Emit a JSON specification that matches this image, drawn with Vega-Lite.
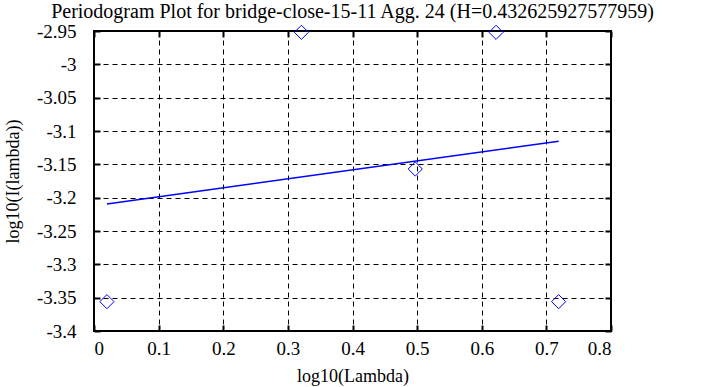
{
  "$schema": "https://vega.github.io/schema/vega-lite/v6.json",
  "width": 517,
  "height": 300,
  "autosize": {"type": "none"},
  "padding": {"left": 94, "top": 31, "right": 94, "bottom": 56},
  "background": "white",
  "config": {
    "view": {"stroke": "black", "strokeWidth": 2},
    "font": "Liberation Serif",
    "axis": {
      "labelFontSize": 19,
      "titleFontSize": 18,
      "titleFontWeight": "normal",
      "labelColor": "black",
      "titleColor": "black",
      "domain": false,
      "tickColor": "black",
      "tickWidth": 2,
      "tickSize": -6,
      "gridColor": "black",
      "gridOpacity": 1,
      "gridWidth": 1,
      "gridDash": [5, 4]
    }
  },
  "title": {
    "text": "Periodogram Plot for bridge-close-15-11 Agg. 24 (H=0.432625927577959)",
    "font": "Liberation Serif",
    "fontSize": 20,
    "fontWeight": "normal",
    "color": "black",
    "anchor": "middle",
    "offset": 0
  },
  "datasets": {
    "pts": [
      {"x": 0.0200, "y": -3.356},
      {"x": 0.3210, "y": -2.952},
      {"x": 0.4971, "y": -3.157},
      {"x": 0.6221, "y": -2.952},
      {"x": 0.7190, "y": -3.356}
    ],
    "fit": [
      {"x": 0.0200, "y": -3.2095},
      {"x": 0.7190, "y": -3.1153}
    ]
  },
  "layer": [
    {
      "data": {"name": "pts"},
      "mark": {"type": "point", "shape": "diamond", "filled": false, "color": "#0000ff", "strokeWidth": 1, "size": 200, "opacity": 1, "clip": false},
      "encoding": {
        "x": {
          "field": "x", "type": "quantitative",
          "scale": {"domain": [0, 0.8], "nice": false, "zero": false},
          "axis": {"orient": "bottom", "values": [0, 0.1, 0.2, 0.3, 0.4, 0.5, 0.6, 0.7, 0.8], "labelExpr": "'' + datum.value", "title": "log10(Lambda)", "labelFont": "Liberation Serif", "titleFont": "Liberation Serif", "grid": true, "labelPadding": 14, "titlePadding": 9}
        },
        "y": {
          "field": "y", "type": "quantitative",
          "scale": {"domain": [-3.4, -2.95], "nice": false, "zero": false},
          "axis": {"orient": "left", "values": [-2.95, -3, -3.05, -3.1, -3.15, -3.2, -3.25, -3.3, -3.35, -3.4], "labelExpr": "'' + datum.value", "title": "log10(I(lambda))", "labelFont": "Liberation Serif", "titleFont": "Liberation Serif", "grid": true, "labelPadding": 24, "titlePadding": 14}
        }
      }
    },
    {
      "data": {"name": "fit"},
      "mark": {"type": "line", "color": "#0000ff", "strokeWidth": 1.5},
      "encoding": {
        "x": {
          "field": "x", "type": "quantitative",
          "scale": {"domain": [0, 0.8], "nice": false, "zero": false},
          "axis": {"orient": "top", "values": [0, 0.1, 0.2, 0.3, 0.4, 0.5, 0.6, 0.7, 0.8], "labels": false, "title": null, "grid": false}
        },
        "y": {
          "field": "y", "type": "quantitative",
          "scale": {"domain": [-3.4, -2.95], "nice": false, "zero": false},
          "axis": {"orient": "right", "values": [-2.95, -3, -3.05, -3.1, -3.15, -3.2, -3.25, -3.3, -3.35, -3.4], "labels": false, "title": null, "grid": false}
        }
      }
    }
  ],
  "resolve": {"axis": {"x": "independent", "y": "independent"}}
}
